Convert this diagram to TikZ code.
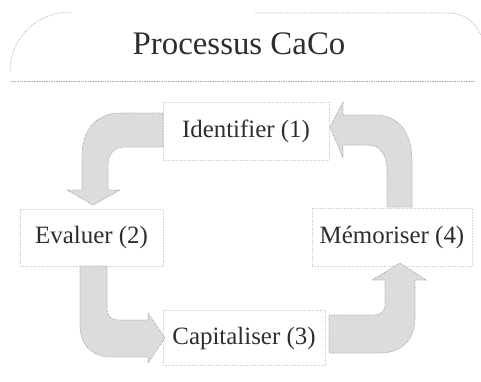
\documentclass[tikz,border=0pt]{standalone}
\usepackage{fontspec}
\setmainfont{Liberation Serif}
\definecolor{txt}{HTML}{2E2E2E}
\definecolor{arrfill}{HTML}{DCDCDC}
\definecolor{arredge}{HTML}{9A9A9A}
\definecolor{frameline}{HTML}{A8A8A8}
\definecolor{boxline}{HTML}{D4D4D4}
\tikzset{
  bentarrow/.style={fill=arrfill, draw=arredge, densely dotted, line width=0.7pt},
  stepbox/.style={draw=boxline, densely dotted, fill=white, line width=0.6pt, text=txt, font=\fontsize{25}{28}\selectfont, inner sep=0pt},
  frame/.style={draw=frameline, densely dotted, line width=0.7pt}
}
\begin{document}
\begin{tikzpicture}[x=1bp, y=-1bp]
\useasboundingbox (0,0) rectangle (481,381);
% title frame
\draw[frame] (10,72) .. controls (10,38) and (36,12) .. (72,12);
\draw[frame] (255,13) -- (450,13) .. controls (465,14) and (475,22) .. (481,35);
\draw[frame] (10,81) -- (475,81);
\node[text=txt, font=\fontsize{33}{38}\selectfont] (title) at (239,44) {Processus CaCo};
% step boxes
\node[stepbox, minimum width=166bp, minimum height=58bp] (id) at (246,131) {Identifier (1)};
\node[stepbox, minimum width=143bp, minimum height=57bp] (ev) at (91.5,238) {Evaluer (2)};
\node[stepbox, minimum width=162bp, minimum height=55bp] (ca) at (244,338) {Capitaliser (3)};
\node[stepbox, minimum width=160bp, minimum height=58bp] (me) at (392,237) {Mémoriser (4)};
% bent arrows
\path[bentarrow] (163,113) -- (120,113) .. controls (96,113) and (82,131) .. (82,155)
  -- (82,190) -- (67,190) -- (93,205) -- (120,190) -- (108,190) -- (108,166)
  .. controls (108,154) and (114,147) .. (125,147) -- (163,147) -- cycle;
\path[bentarrow] (80,266) -- (80,325) .. controls (80,345) and (92,357) .. (112,357)
  -- (148,357) -- (148,363) -- (165,338) -- (148,313) -- (148,320) -- (119,320)
  .. controls (111,320) and (107,316) .. (107,308) -- (107,266) -- cycle;
\path[bentarrow] (329,353) -- (380,353) .. controls (401,353) and (415,340) .. (415,318)
  -- (415,280) -- (426,280) -- (400,263) -- (372,280) -- (385,280) -- (385,305)
  .. controls (385,312) and (380,315) .. (373,315) -- (329,315) -- cycle;
\path[bentarrow] (412,207) -- (412,160) .. controls (412,132) and (398,115) .. (375,115)
  -- (343,115) -- (343,102) -- (330,127) -- (343,158) -- (343,145) -- (368,145)
  .. controls (380,145) and (387,155) .. (387,170) -- (387,207) -- cycle;
\end{tikzpicture}
\end{document}
